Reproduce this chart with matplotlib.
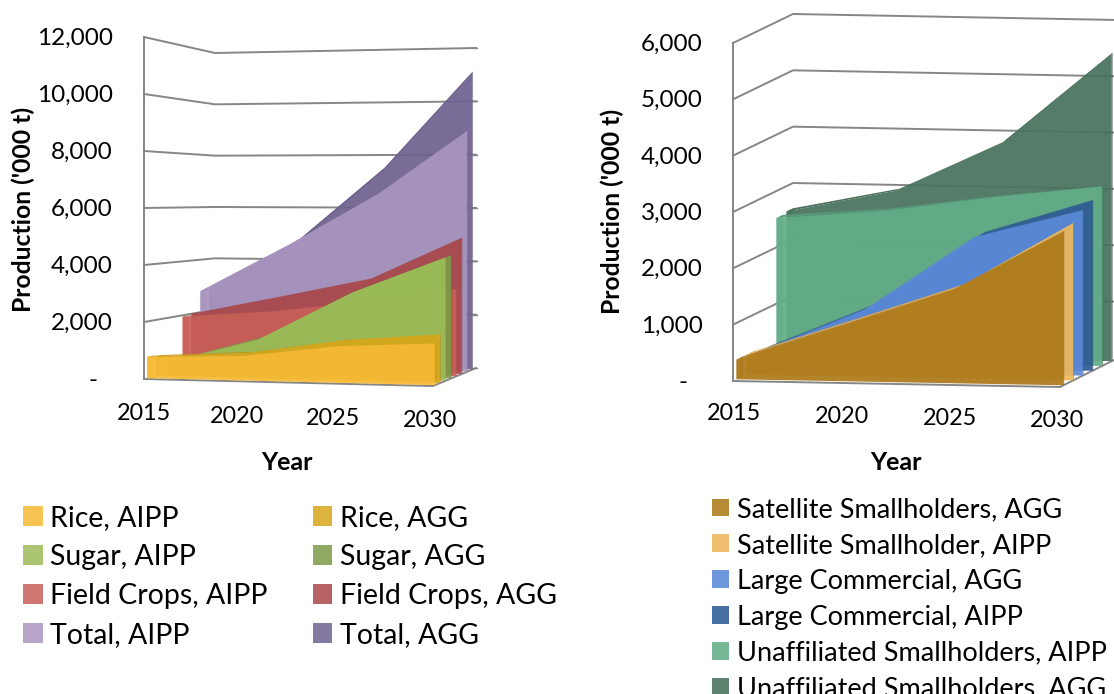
import matplotlib
matplotlib.use('Agg')
import matplotlib.pyplot as plt
from matplotlib.patches import Polygon, Patch
from matplotlib.colors import to_rgb

plt.rcParams['font.family'] = ['Lato', 'DejaVu Sans']

years = [2015, 2020, 2025, 2030]

# left chart, front to back
crop_names = ['Rice, AIPP', 'Rice, AGG', 'Sugar, AIPP', 'Sugar, AGG',
              'Field Crops, AIPP', 'Field Crops, AGG', 'Total, AIPP', 'Total, AGG']
rice_aipp = [750, 850, 1250, 1400]
rice_agg = [700, 900, 1400, 1650]
sugar_aipp = [400, 1300, 3000, 4250]
sugar_agg = [400, 1350, 3050, 4300]
field_aipp = [1950, 2200, 2600, 3100]
field_agg = [2000, 2700, 3400, 4900]
total_aipp = [2800, 4600, 6500, 8800]
total_agg = [2900, 4700, 7500, 11050]
crop_values = [rice_aipp, rice_agg, sugar_aipp, sugar_agg,
               field_aipp, field_agg, total_aipp, total_agg]
crop_colors = ['#F6BA35', '#D6A61A', '#9CBB58', '#7C9A48',
               '#C85F58', '#A8484A', '#A995BF', '#6F6290']
crop_ticks = ['-', '2,000', '4,000', '6,000', '8,000', '10,000', '12,000']

# right chart, front to back
farm_names = ['Satellite Smallholders, AGG', 'Satellite Smallholder, AIPP',
              'Large Commercial, AGG', 'Large Commercial, AIPP',
              'Unaffiliated Smallholders, AIPP', 'Unaffiliated Smallholders, AGG']
sat_agg = [350, 1000, 1650, 2680]
sat_aipp = [350, 1000, 1650, 2750]
large_agg = [300, 1100, 2400, 2900]
large_aipp = [300, 1100, 2400, 3000]
unaff_aipp = [2520, 2680, 2950, 3170]
unaff_agg = [2550, 2950, 3850, 5450]
farm_values = [sat_agg, sat_aipp, large_agg, large_aipp, unaff_aipp, unaff_agg]
farm_colors = ['#AD7A1A', '#EDB85C', '#5B8AD8', '#2F5B95', '#63AE88', '#47725C']
farm_ticks = ['-', '1,000', '2,000', '3,000', '4,000', '5,000', '6,000']

# pixel corners of the two 3D boxes: front left, front right, back left, back right
left_box = {'bottom': [(144, 379), (433, 386), (215, 361), (476, 368)],
            'top': [(144, 37), (433, 26), (215, 53), (476, 48)], 'vmax': 12000}
right_box = {'bottom': [(733, 381), (1060, 387), (793, 352), (1118, 358)],
             'top': [(733, 43), (1060, 42), (793, 14), (1118, 20)], 'vmax': 6000}

GRID = '#868686'


def project(box, year, value, depth):
    # trilinear lookup from (year, value, depth) into picture pixels
    u = (year - years[0]) / (years[-1] - years[0])
    w = value / box['vmax']
    pts = []
    for level in ('bottom', 'top'):
        c = box[level]
        front = [c[0][k] + (c[1][k] - c[0][k]) * u for k in (0, 1)]
        back = [c[2][k] + (c[3][k] - c[2][k]) * u for k in (0, 1)]
        pts.append([front[k] + (back[k] - front[k]) * depth for k in (0, 1)])
    return (pts[0][0] + (pts[1][0] - pts[0][0]) * w,
            pts[0][1] + (pts[1][1] - pts[0][1]) * w)


def darker(color, f):
    return tuple(c * f for c in to_rgb(color))


def draw_frame(ax, box, ticks):
    n = len(ticks) - 1
    for i in range(n + 1):
        v = box['vmax'] * i / n
        line = [project(box, years[0], v, 0), project(box, years[0], v, 1),
                project(box, years[-1], v, 1)]
        if i == 0:
            line = [project(box, years[0], 0, 0), project(box, years[-1], 0, 0),
                    project(box, years[-1], 0, 1)]
        ax.plot(*zip(*line), color=GRID, lw=1.4, zorder=1)
        # tick on the back right edge
        x, y = project(box, years[-1], v, 1)
        ax.plot([x - 3, x + 1], [y, y], color=GRID, lw=1, zorder=1)
    ax.plot(*zip(project(box, years[0], 0, 0), project(box, years[0], box['vmax'], 0)),
            color=GRID, lw=1.4, zorder=1)


def draw_series(ax, box, values, color, d0, d1, z):
    alpha = 0.93
    # band is deep at the 2015 end and nearly flat at the 2030 end
    thin = d0 + (d1 - d0) * 0.12
    far = [d1 + (thin - d1) * i / (len(years) - 1) for i in range(len(years))]
    # left end
    ax.add_patch(Polygon([project(box, years[0], 0, d0), project(box, years[0], values[0], d0),
                          project(box, years[0], values[0], d1), project(box, years[0], 0, d1)],
                         fc=color, ec='none', alpha=0.7, zorder=z))
    # top strips
    for i in range(len(years) - 1):
        ax.add_patch(Polygon([project(box, years[i], values[i], d0),
                              project(box, years[i + 1], values[i + 1], d0),
                              project(box, years[i + 1], values[i + 1], far[i + 1]),
                              project(box, years[i], values[i], far[i])],
                             fc=darker(color, 0.88), ec='none', alpha=alpha, zorder=z))
    # right end
    ax.add_patch(Polygon([project(box, years[-1], 0, d0), project(box, years[-1], values[-1], d0),
                          project(box, years[-1], values[-1], thin), project(box, years[-1], 0, thin)],
                         fc=darker(color, 0.75), ec='none', alpha=alpha, zorder=z))
    # front face
    face = [project(box, y, 0, d0) for y in years]
    face += [project(box, y, v, d0) for y, v in zip(years[::-1], values[::-1])]
    ax.add_patch(Polygon(face, fc=color, ec='none', alpha=alpha, zorder=z + 0.5))


def draw_chart(ax, box, values, colors, ticks, tick_x, year_xy):
    draw_frame(ax, box, ticks)
    n = len(values)
    # back to front so the nearer series sit on top
    for i in range(n - 1, -1, -1):
        draw_series(ax, box, values[i], colors[i], (i + 0.35) / n, (i + 1) / n + 0.02 / n, 2 + (n - i))
    for i, t in enumerate(ticks):
        y = project(box, years[0], box['vmax'] * i / (len(ticks) - 1), 0)[1] + 1.5
        x = tick_x - 16 if t == '-' else tick_x
        ax.text(x, y, t, ha='right', va='center', fontsize=17.5, color='black')
    for y, (px, py) in zip(years, year_xy):
        ax.text(px, py, str(y), ha='center', va='center', fontsize=16.8, color='black')


fig = plt.figure(figsize=(11.14, 6.94), dpi=100)
ax = fig.add_axes([0, 0, 1, 1])
ax.set_xlim(0, 1114)
ax.set_ylim(694, 0)
ax.axis('off')

draw_chart(ax, left_box, crop_values, crop_colors, crop_ticks, 113,
           [(143.5, 413), (237, 416), (333, 418), (430, 420)])
draw_chart(ax, right_box, farm_values, farm_colors, farm_ticks, 703,
           [(733.5, 413), (842, 416), (950, 418), (1057, 420)])

ax.text(23, 209, "Production ('000 t)", rotation=90, ha='center', va='center',
        fontsize=17.8, fontweight='bold')
ax.text(612, 211, "Production ('000 t)", rotation=90, ha='center', va='center',
        fontsize=17.8, fontweight='bold')
ax.text(287, 462, 'Year', ha='center', va='center', fontsize=18, fontweight='bold')
ax.text(896, 462, 'Year', ha='center', va='center', fontsize=18, fontweight='bold')

crop_handles = [Patch(fc=c, alpha=0.85, label=n) for c, n in zip(crop_colors, crop_names)]
crop_handles = crop_handles[::2] + crop_handles[1::2]
leg1 = ax.legend(handles=crop_handles, ncol=2, loc='upper left', bbox_to_anchor=(23, 505),
                 bbox_transform=ax.transData, frameon=False, fontsize=20.5, borderpad=0,
                 borderaxespad=0, handlelength=0.7, handleheight=0.7, handletextpad=0.25,
                 labelspacing=0.46, columnspacing=1.58)
ax.add_artist(leg1)

farm_handles = [Patch(fc=c, alpha=0.88, label=n) for c, n in zip(farm_colors, farm_names)]
ax.legend(handles=farm_handles, ncol=1, loc='upper left', bbox_to_anchor=(712, 497),
          bbox_transform=ax.transData, frameon=False, fontsize=19.5, borderpad=0,
          borderaxespad=0, handlelength=0.63, handleheight=0.63, handletextpad=0.3,
          labelspacing=0.40)

fig.savefig('out.png', dpi=100)
